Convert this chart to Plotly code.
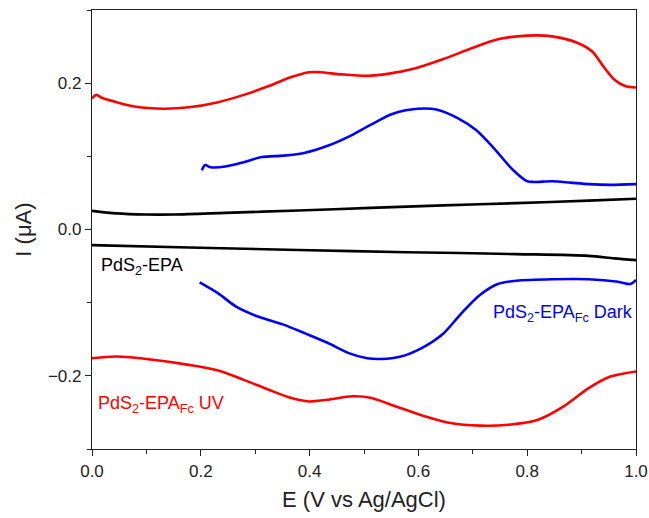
import plotly.graph_objects as go

# ---- data (E in V vs Ag/AgCl, I in µA) ----
uv_fwd_E = [0.0, 0.008, 0.018, 0.045, 0.078, 0.132, 0.178, 0.232, 0.279, 0.325, 0.365, 0.399, 0.419,
            0.459, 0.506, 0.546, 0.593, 0.646, 0.699, 0.746, 0.800, 0.846, 0.893, 0.920, 0.940, 0.960, 0.980, 1.0]
uv_fwd_I = [0.179, 0.184, 0.180, 0.174, 0.168, 0.165, 0.167, 0.174, 0.184, 0.196, 0.208, 0.215, 0.215,
            0.212, 0.210, 0.213, 0.220, 0.233, 0.248, 0.260, 0.265, 0.264, 0.255, 0.243, 0.223, 0.205, 0.196, 0.194]
uv_rev_E = [0.0, 0.045, 0.112, 0.178, 0.232, 0.279, 0.325, 0.365, 0.399, 0.432, 0.479, 0.512, 0.559,
            0.613, 0.659, 0.713, 0.766, 0.820, 0.867, 0.913, 0.953, 1.0]
uv_rev_I = [-0.176, -0.1736, -0.178, -0.185, -0.1927, -0.2055, -0.219, -0.230, -0.235, -0.2327, -0.228, -0.230, -0.2418,
            -0.2555, -0.2645, -0.268, -0.2668, -0.260, -0.2418, -0.2168, -0.201, -0.194]

dark_fwd_E = [0.202, 0.208, 0.218, 0.245, 0.279, 0.312, 0.352, 0.392, 0.432, 0.472, 0.512, 0.552, 0.599,
              0.633, 0.673, 0.706, 0.739, 0.773, 0.800, 0.813, 0.846, 0.880, 0.913, 0.953, 1.0]
dark_fwd_I = [0.081, 0.088, 0.085, 0.086, 0.092, 0.099, 0.101, 0.105, 0.114, 0.127, 0.143, 0.158, 0.165,
              0.164, 0.152, 0.136, 0.111, 0.082, 0.066, 0.065, 0.066, 0.064, 0.062, 0.061, 0.062]
dark_rev_E = [0.198, 0.232, 0.265, 0.305, 0.352, 0.392, 0.432, 0.472, 0.506, 0.532, 0.566, 0.606, 0.646,
              0.679, 0.713, 0.746, 0.780, 0.846, 0.913, 0.967, 0.990, 1.0]
dark_rev_I = [-0.0723, -0.0873, -0.1055, -0.119, -0.130, -0.142, -0.1545, -0.169, -0.176, -0.177, -0.174, -0.162, -0.142,
              -0.1145, -0.0895, -0.0745, -0.070, -0.068, -0.068, -0.0714, -0.0745, -0.069]

epa_fwd_E = [0.0, 0.045, 0.098, 0.152, 0.245, 0.379, 0.512, 0.646, 0.780, 0.913, 1.0]
epa_fwd_I = [0.0255, 0.022, 0.0205, 0.0205, 0.0227, 0.026, 0.0295, 0.033, 0.036, 0.0395, 0.042]
epa_rev_E = [0.0, 0.178, 0.379, 0.579, 0.780, 0.913, 0.960, 1.0]
epa_rev_I = [-0.0214, -0.0245, -0.028, -0.031, -0.0336, -0.036, -0.0395, -0.0418]

labels = ["PdS<sub>2</sub>-EPA", "PdS<sub>2</sub>-EPA<sub>Fc</sub> Dark", "PdS<sub>2</sub>-EPA<sub>Fc</sub> UV"]
x_ticks = [0, 0.2, 0.4, 0.6, 0.8, 1.0]
x_tick_text = ["0.0", "0.2", "0.4", "0.6", "0.8", "1.0"]
y_ticks = [-0.2, 0.0, 0.2]
y_tick_text = ["\u22120.2", "0.0", "0.2"]

RED, BLUE, BLACK = "#FF0000", "#0000FF", "#000000"

fig = go.Figure()
for xs, ys, c in [(uv_fwd_E, uv_fwd_I, RED), (uv_rev_E, uv_rev_I, RED),
                  (dark_fwd_E, dark_fwd_I, BLUE), (dark_rev_E, dark_rev_I, BLUE),
                  (epa_fwd_E, epa_fwd_I, BLACK), (epa_rev_E, epa_rev_I, BLACK)]:
    fig.add_trace(go.Scatter(x=xs, y=ys, mode="lines",
                             line=dict(color=c, width=2.6, shape="spline", smoothing=0.8),
                             showlegend=False, hoverinfo="skip"))

fnt = "Liberation Sans, Arial, sans-serif"
fig.add_annotation(x=0.013, y=-0.05, text=labels[0], showarrow=False, xanchor="left", yanchor="middle",
                   font=dict(family=fnt, size=18, color=BLACK))
fig.add_annotation(x=0.998, y=-0.1145, text=labels[1], showarrow=False, xanchor="right", yanchor="middle",
                   font=dict(family=fnt, size=18, color=BLUE))
fig.add_annotation(x=0.008, y=-0.239, text=labels[2], showarrow=False, xanchor="left", yanchor="middle",
                   font=dict(family=fnt, size=18, color=RED))

axis_common = dict(showline=True, linecolor="#222", linewidth=1.3, mirror=True, showgrid=False, zeroline=False,
                   ticks="outside", ticklen=6, tickwidth=1.3, tickcolor="#222", automargin=False,
                   tickfont=dict(family=fnt, size=17, color="#222"))
fig.update_xaxes(range=[0, 1.0], tickvals=x_ticks, ticktext=x_tick_text,
                 minor=dict(dtick=0.1, ticks="outside", ticklen=4, tickwidth=1.3, tickcolor="#222"),
                 title=dict(text="E (V vs Ag/AgCl)", font=dict(family=fnt, size=22, color="#222"), standoff=12),
                 **axis_common)
fig.update_yaxes(range=[-0.3, 0.3], tickvals=y_ticks, ticktext=y_tick_text,
                 minor=dict(dtick=0.1, ticks="outside", ticklen=4, tickwidth=1.3, tickcolor="#222"),
                 title=dict(text="I (\u03bcA)", font=dict(family=fnt, size=22, color="#222"), standoff=10),
                 **axis_common)
fig.update_layout(width=649, height=518, margin=dict(l=92, r=13, t=10, b=69),
                  plot_bgcolor="white", paper_bgcolor="white")
fig.write_html("out.html")
